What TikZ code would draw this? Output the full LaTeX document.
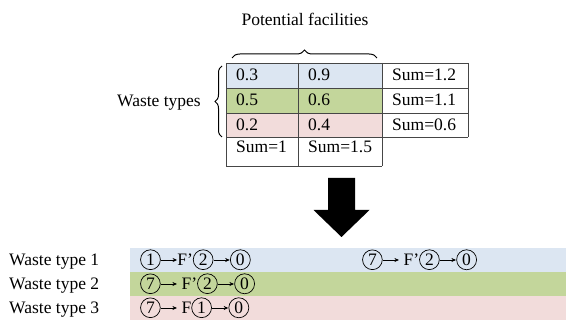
\documentclass[tikz,border=0pt]{standalone}
\usepackage{fontspec}
\setmainfont{Liberation Serif}
\usetikzlibrary{decorations.pathreplacing,arrows.meta}
\definecolor{cblue}{RGB}{220,230,242}
\definecolor{cgreen}{RGB}{195,214,155}
\definecolor{cpink}{RGB}{242,220,219}
\definecolor{cline}{RGB}{70,70,70}
\newcommand{\cnum}[1]{\tikz[baseline=(cn.base)]\node[draw,circle,inner sep=1.9pt,line width=0.7pt](cn){#1};}
\newcommand{\rar}{\tikz[baseline=0pt]\draw[line width=0.6pt,-{Stealth[length=4.5pt,width=4pt]}] (0pt,5.5pt) -- (16pt,5.5pt);}
\begin{document}
\begin{tikzpicture}[x=1pt,y=-1pt,
  every node/.style={font=\fontsize{17.5}{21}\selectfont,inner sep=0pt},
  lbl/.style={anchor=base west},
  grid/.style={draw=cline,line width=0.8pt},
  brace/.style={decorate,decoration={brace,amplitude=8pt},line width=1pt}]
\useasboundingbox (0,0) rectangle (566,320);
% table fills
\fill[cblue] (226,63) rectangle (382,88);
\fill[cgreen] (226,88) rectangle (382,113);
\fill[cpink] (226,113) rectangle (382,137);
% table grid
\draw[grid] (226,63) -- (468,63);
\draw[grid] (226,88) -- (468,88);
\draw[grid] (226,113) -- (468,113);
\draw[grid] (226,137) -- (468,137);
\draw[grid] (226,166) -- (382,166);
\draw[grid] (226,63) -- (226,166);
\draw[grid] (298,63) -- (298,166);
\draw[grid] (382,63) -- (382,166);
\draw[grid] (468,63) -- (468,137);
% table texts
\node[lbl] (c11) at (236,81) {0.3};
\node[lbl] (c12) at (308,81) {0.9};
\node[lbl] (c13) at (392,81) {Sum=1.2};
\node[lbl] (c21) at (236,106) {0.5};
\node[lbl] (c22) at (308,106) {0.6};
\node[lbl] (c23) at (392,106) {Sum=1.1};
\node[lbl] (c31) at (236,130.5) {0.2};
\node[lbl] (c32) at (308,130.5) {0.4};
\node[lbl] (c33) at (392,130.5) {Sum=0.6};
\node[lbl] (c41) at (236,153) {Sum=1};
\node[lbl] (c42) at (308,153) {Sum=1.5};
% braces and labels
\draw[brace] (232,58) -- (377,58);
\node[anchor=base] (pf) at (305,26) {Potential facilities};
\draw[brace,decoration={amplitude=7pt}] (222,137) -- (222,66);
\node[anchor=base east] (wt) at (201,107) {Waste types};
% big arrow
\fill (328,178) -- (355,178) -- (355,210) -- (369.5,210) -- (341.5,237) -- (313.5,210) -- (328,210) -- cycle;
% bands
\fill[cblue] (130,248) rectangle (566,272);
\fill[cgreen] (130,272) rectangle (566,296);
\fill[cpink] (130,296) rectangle (566,320);
\node[lbl] (w1) at (9,265.5) {Waste type 1};
\node[lbl] (w2) at (9,289.5) {Waste type 2};
\node[lbl] (w3) at (9,313.5) {Waste type 3};
\node[lbl] (r1a) at (140,265.5) {\cnum{1}\rar F'\cnum{2}\rar\cnum{0}};
\node[lbl] (r1b) at (362,265.5) {\cnum{7}\rar\ F'\cnum{2}\rar\cnum{0}};
\node[lbl] (r2) at (140,289.5) {\cnum{7}\rar\ F'\cnum{2}\rar\cnum{0}};
\node[lbl] (r3) at (140,313.5) {\cnum{7}\rar\ F\cnum{1}\rar\cnum{0}};
\end{tikzpicture}
\end{document}
